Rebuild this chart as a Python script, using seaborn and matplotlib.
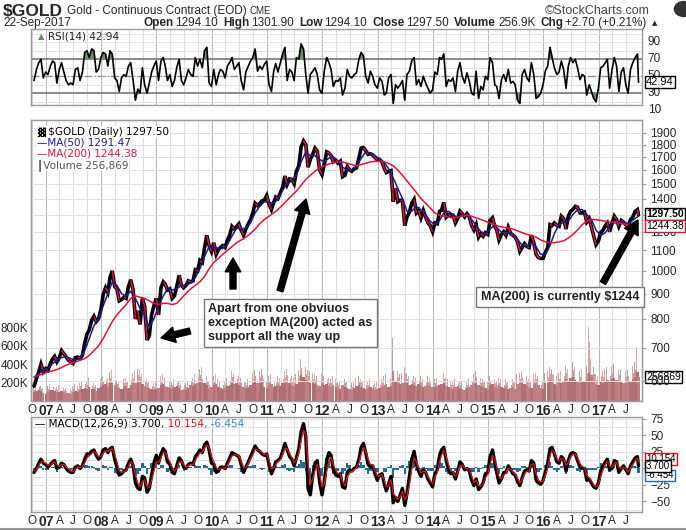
import numpy as np
import pandas as pd
import matplotlib
matplotlib.use('Agg')
import matplotlib.pyplot as plt
import matplotlib.dates as mdates
from matplotlib.collections import LineCollection
from matplotlib.patches import Circle
import seaborn as sns

# semi-monthly readings (mid month, month end), Oct 2006 .. 22 Sep 2017
price = (
    [585, 605, 625, 648, 625, 635]
    + [630, 650, 665, 672, 655, 668, 690, 680, 670, 660, 655, 650, 668, 670, 665, 675, 715, 745, 760, 795, 810, 790, 800, 835]
    + [895, 925, 905, 970, 1000, 930, 920, 870, 875, 885, 880, 930, 960, 915, 800, 830, 780, 880, 850, 725, 740, 815, 850, 880]
    + [815, 925, 950, 940, 915, 920, 880, 890, 930, 980, 935, 925, 935, 955, 950, 955, 1005, 1000, 1050, 1040, 1115, 1180, 1125, 1095]
    + [1140, 1080, 1105, 1115, 1125, 1115, 1155, 1180, 1230, 1215, 1230, 1245, 1210, 1180, 1215, 1245, 1270, 1310, 1370, 1355, 1370, 1385, 1390, 1420]
    + [1365, 1330, 1375, 1410, 1400, 1440, 1475, 1555, 1495, 1535, 1530, 1500, 1590, 1630, 1780, 1830, 1800, 1620, 1680, 1720, 1770, 1745, 1600, 1565]
    + [1640, 1740, 1730, 1710, 1660, 1670, 1650, 1665, 1550, 1560, 1625, 1600, 1590, 1610, 1615, 1690, 1770, 1775, 1750, 1720, 1725, 1715, 1695, 1675]
    + [1680, 1660, 1610, 1580, 1590, 1595, 1380, 1470, 1380, 1390, 1385, 1235, 1285, 1315, 1370, 1395, 1310, 1325, 1280, 1325, 1285, 1250, 1235, 1200]
    + [1250, 1245, 1320, 1325, 1375, 1285, 1300, 1295, 1295, 1250, 1275, 1320, 1305, 1285, 1305, 1285, 1235, 1210, 1240, 1170, 1190, 1175, 1195, 1185]
    + [1265, 1280, 1230, 1210, 1155, 1185, 1200, 1180, 1225, 1190, 1180, 1170, 1145, 1095, 1115, 1135, 1120, 1115, 1180, 1140, 1080, 1065, 1060, 1060]
    + [1090, 1115, 1240, 1235, 1250, 1235, 1230, 1290, 1275, 1215, 1290, 1320, 1330, 1350, 1345, 1310, 1310, 1315, 1255, 1275, 1225, 1175, 1130, 1150]
    + [1195, 1210, 1235, 1250, 1200, 1250, 1290, 1270, 1230, 1265, 1255, 1240, 1230, 1270, 1285, 1320, 1330, 1297.5]
)

rsi = (
    [45, 58, 66, 70, 48, 55]
    + [52, 62, 68, 66, 42, 58, 66, 55, 45, 40, 42, 40, 58, 60, 45, 55, 78, 80, 72, 82, 80, 55, 58, 72]
    + [78, 76, 62, 80, 76, 48, 45, 32, 48, 52, 50, 62, 66, 45, 22, 35, 30, 60, 40, 30, 42, 55, 62, 68]
    + [45, 68, 72, 62, 45, 52, 38, 45, 60, 70, 45, 40, 48, 58, 52, 50, 72, 62, 70, 60, 80, 84, 42, 38]
    + [58, 40, 52, 58, 56, 48, 62, 66, 72, 58, 62, 66, 45, 34, 55, 62, 68, 72, 82, 56, 62, 58, 64, 68]
    + [40, 32, 56, 65, 55, 66, 76, 84, 45, 58, 55, 45, 72, 70, 88, 82, 52, 30, 52, 56, 60, 52, 34, 30]
    + [56, 72, 66, 58, 38, 45, 44, 48, 28, 36, 58, 50, 48, 52, 54, 70, 78, 74, 50, 42, 56, 50, 40, 36]
    + [48, 44, 28, 30, 48, 52, 18, 40, 36, 40, 45, 22, 52, 56, 68, 72, 40, 46, 38, 50, 42, 36, 30, 34]
    + [55, 52, 72, 70, 76, 38, 46, 44, 48, 32, 56, 66, 50, 42, 54, 44, 30, 28, 56, 24, 38, 34, 50, 46]
    + [72, 66, 40, 38, 24, 46, 52, 44, 58, 42, 44, 40, 22, 18, 52, 58, 48, 44, 66, 52, 24, 26, 30, 40]
    + [56, 62, 84, 72, 60, 52, 55, 68, 58, 36, 62, 72, 66, 70, 60, 46, 52, 50, 28, 40, 32, 24, 20, 36]
    + [60, 62, 66, 70, 36, 58, 72, 62, 32, 55, 60, 40, 30, 58, 66, 72, 76, 42.94]
)

macd = (
    [-6, 0, 8, 14, 8, 6]
    + [2, 6, 10, 12, 0, 2, 8, 6, 0, -4, -6, -6, 2, 4, 0, 4, 14, 22, 22, 26, 28, 20, 14, 18]
    + [28, 30, 24, 30, 32, 14, 2, -10, -8, -4, -2, 8, 14, 4, -22, -30, -32, -12, -14, -36, -30, -10, 8, 20]
    + [8, 22, 30, 26, 10, 6, -6, -8, 4, 16, 12, 2, 0, 6, 8, 6, 18, 22, 28, 24, 36, 40, 28, 8]
    + [6, -6, -4, 2, 2, 0, 8, 16, 24, 22, 20, 18, 6, -6, 2, 10, 18, 26, 34, 28, 26, 22, 20, 22]
    + [6, -8, 0, 10, 12, 16, 26, 38, 28, 18, 14, 4, 16, 30, 56, 68, 48, -30, -40, -10, 8, 12, -20, -40]
    + [-22, 12, 24, 20, -2, -10, -12, -8, -28, -30, -6, -2, -4, 0, 2, 14, 32, 38, 24, 6, 2, 4, -8, -18]
    + [-10, -8, -24, -34, -24, -12, -52, -44, -50, -40, -30, -56, -38, -12, 14, 26, 6, -4, -12, -2, -6, -16, -22, -28]
    + [-8, -2, 20, 28, 32, 12, -2, -8, -6, -16, -4, 10, 6, -2, 0, -4, -18, -26, -16, -32, -28, -22, -8, -6]
    + [18, 28, 10, -6, -22, -16, -6, -6, 4, -2, -8, -10, -20, -26, -14, -4, -2, -4, 12, 8, -18, -22, -24, -18]
    + [-6, 8, 30, 32, 22, 10, 8, 18, 14, -4, 12, 22, 24, 22, 12, 2, 0, 0, -18, -16, -22, -28, -30, -22]
    + [-4, 4, 10, 14, -2, 0, 12, 10, -6, 0, 4, -2, -8, 4, 10, 16, 18, 3.7]
)

signal = (
    [-4, -2, 4, 10, 10, 8]
    + [5, 5, 8, 10, 5, 3, 6, 6, 3, -1, -4, -5, -1, 2, 1, 3, 9, 16, 19, 23, 26, 23, 18, 18]
    + [23, 27, 26, 28, 30, 21, 10, -3, -6, -5, -3, 4, 10, 7, -10, -22, -28, -20, -17, -28, -29, -18, -4, 10]
    + [9, 16, 24, 25, 16, 10, 1, -4, 0, 10, 11, 6, 2, 4, 6, 6, 13, 18, 24, 24, 31, 36, 31, 18]
    + [11, 1, -2, 0, 1, 0, 5, 11, 19, 21, 20, 19, 11, 1, 1, 7, 14, 21, 29, 28, 27, 24, 21, 22]
    + [12, 0, 0, 6, 10, 14, 21, 31, 30, 22, 17, 9, 13, 23, 43, 58, 52, 6, -24, -16, -3, 6, -8, -28]
    + [-24, -4, 12, 17, 6, -3, -8, -8, -20, -26, -14, -7, -5, -2, 1, 9, 22, 32, 27, 14, 6, 5, -3, -12]
    + [-11, -9, -18, -28, -26, -17, -38, -42, -47, -43, -35, -48, -42, -24, -2, 16, 10, 1, -7, -4, -5, -12, -18, -24]
    + [-14, -6, 10, 20, 28, 18, 6, -4, -5, -12, -7, 4, 5, 1, 0, -3, -12, -21, -18, -26, -27, -24, -14, -9]
    + [6, 20, 14, 1, -14, -15, -10, -7, 0, -1, -5, -8, -15, -22, -17, -8, -4, -4, 6, 7, -8, -17, -21, -19]
    + [-11, 2, 20, 28, 24, 15, 11, 15, 14, 4, 9, 17, 21, 22, 16, 7, 3, 1, -10, -14, -19, -25, -28, -24]
    + [-12, -2, 6, 11, 4, 2, 8, 9, 1, 0, 2, 0, -5, 0, 6, 12, 16, 10.154]
)

# typical daily volume per half month (thousands)
volume_k = (
    [95, 110, 120, 105, 90, 80]
    + [100, 115, 120, 105, 95, 100, 110, 95, 90, 85, 80, 95, 110, 100, 120, 130, 140, 135, 150, 130, 125, 110, 140, 150]
    + [170, 180, 160, 190, 200, 170, 150, 140, 130, 150, 160, 140, 170, 190, 200, 220, 210, 180, 160, 150, 140, 130, 120, 130]
    + [140, 170, 180, 160, 150, 140, 130, 150, 160, 140, 120, 130, 120, 140, 170, 160, 180, 200, 220, 230, 200, 170, 140, 150]
    + [170, 180, 150, 140, 130, 140, 160, 170, 200, 180, 190, 170, 160, 150, 140, 150, 170, 190, 210, 190, 200, 220, 150, 140]
    + [170, 180, 150, 160, 170, 160, 190, 200, 220, 190, 170, 160, 180, 210, 280, 260, 230, 210, 200, 190, 180, 170, 160, 190]
    + [170, 180, 160, 150, 170, 150, 140, 130, 170, 150, 140, 130, 120, 140, 160, 170, 150, 140, 130, 140, 150, 140, 120, 130]
    + [140, 150, 170, 180, 150, 160, 320, 220, 200, 180, 190, 230, 190, 170, 180, 170, 160, 180, 170, 150, 160, 170, 160, 150]
    + [150, 160, 170, 180, 190, 160, 150, 140, 130, 150, 160, 140, 130, 120, 140, 150, 170, 180, 200, 170, 160, 150, 140, 130]
    + [170, 180, 150, 140, 160, 150, 140, 150, 130, 140, 150, 130, 180, 190, 200, 180, 170, 150, 140, 180, 190, 170, 140, 130]
    + [190, 200, 230, 220, 180, 170, 190, 200, 210, 240, 220, 250, 260, 230, 210, 200, 220, 210, 240, 300, 280, 230, 180, 170]
    + [210, 200, 220, 230, 210, 240, 250, 230, 220, 210, 190, 200, 210, 220, 240, 260, 310, 256.869]
)

# highest single-day volume per half month (thousands)
volume_peak_k = (
    [150, 170, 190, 160, 140, 120]
    + [160, 180, 190, 160, 150, 170, 180, 150, 140, 130, 130, 160, 180, 160, 200, 220, 230, 210, 250, 200, 190, 170, 230, 240]
    + [260, 290, 250, 310, 330, 260, 230, 220, 200, 240, 250, 220, 280, 300, 320, 350, 330, 290, 260, 240, 220, 200, 190, 210]
    + [220, 270, 290, 250, 230, 220, 210, 240, 250, 220, 190, 210, 190, 220, 270, 250, 290, 320, 350, 370, 320, 270, 220, 240]
    + [270, 290, 240, 220, 210, 220, 250, 270, 320, 290, 300, 270, 250, 240, 220, 240, 270, 300, 340, 300, 320, 350, 240, 220]
    + [270, 290, 240, 250, 270, 250, 300, 320, 350, 300, 270, 250, 290, 340, 450, 420, 370, 340, 320, 300, 290, 270, 250, 300]
    + [270, 290, 250, 240, 270, 240, 220, 210, 270, 240, 220, 210, 190, 220, 250, 270, 240, 220, 210, 220, 240, 220, 190, 210]
    + [220, 240, 270, 290, 240, 250, 680, 350, 320, 290, 300, 370, 300, 270, 290, 270, 250, 290, 270, 240, 250, 270, 250, 240]
    + [240, 250, 270, 290, 300, 250, 240, 220, 210, 240, 250, 220, 210, 190, 220, 240, 270, 290, 320, 270, 250, 240, 220, 210]
    + [270, 290, 240, 220, 250, 240, 220, 240, 210, 220, 240, 210, 290, 300, 320, 290, 270, 240, 220, 290, 300, 270, 220, 210]
    + [300, 320, 370, 350, 290, 270, 300, 320, 340, 380, 350, 400, 420, 370, 340, 320, 350, 340, 380, 800, 450, 370, 290, 270]
    + [340, 320, 350, 370, 340, 380, 400, 370, 350, 340, 300, 320, 340, 350, 380, 420, 580, 300]
)

# monthly moving average readings, Oct 2006 .. Sep 2017
ma50 = (
    [610, 620, 630]
    + [635, 650, 660, 668, 672, 665, 660, 665, 690, 730, 775, 800]
    + [850, 900, 950, 935, 900, 890, 910, 880, 840, 810, 770, 800]
    + [850, 890, 920, 915, 920, 935, 935, 945, 970, 1010, 1070, 1120]
    + [1120, 1110, 1110, 1130, 1175, 1220, 1215, 1220, 1250, 1310, 1350, 1380]
    + [1375, 1370, 1395, 1455, 1500, 1520, 1560, 1660, 1740, 1710, 1710, 1680]
    + [1660, 1690, 1700, 1670, 1620, 1600, 1600, 1620, 1690, 1740, 1730, 1710]
    + [1685, 1655, 1610, 1540, 1470, 1400, 1320, 1320, 1350, 1330, 1300, 1260]
    + [1240, 1265, 1310, 1320, 1300, 1280, 1295, 1300, 1270, 1235, 1200, 1190]
    + [1215, 1240, 1210, 1190, 1195, 1190, 1160, 1125, 1120, 1140, 1120, 1080]
    + [1080, 1125, 1190, 1240, 1255, 1260, 1300, 1330, 1330, 1300, 1270, 1210]
    + [1180, 1195, 1230, 1250, 1255, 1255, 1245, 1265, 1291.47]
)
ma200 = (
    [610, 615, 620]
    + [625, 628, 632, 638, 645, 650, 655, 660, 665, 675, 690, 705]
    + [730, 760, 790, 815, 835, 855, 880, 890, 885, 880, 870, 860]
    + [855, 860, 860, 855, 860, 880, 900, 920, 935, 950, 975, 1010]
    + [1040, 1060, 1080, 1100, 1120, 1140, 1155, 1170, 1190, 1215, 1245, 1270]
    + [1290, 1310, 1330, 1360, 1390, 1420, 1450, 1490, 1530, 1560, 1590, 1615]
    + [1630, 1645, 1655, 1665, 1660, 1650, 1640, 1630, 1640, 1650, 1660, 1665]
    + [1665, 1660, 1650, 1630, 1600, 1560, 1520, 1480, 1440, 1400, 1370, 1340]
    + [1310, 1295, 1290, 1285, 1280, 1285, 1290, 1295, 1290, 1280, 1270, 1260]
    + [1250, 1240, 1230, 1225, 1220, 1215, 1205, 1195, 1185, 1180, 1170, 1155]
    + [1145, 1140, 1140, 1145, 1150, 1165, 1185, 1210, 1240, 1260, 1270, 1270]
    + [1265, 1260, 1255, 1255, 1250, 1245, 1240, 1240, 1244.38]
)

price_ticks = [600, 700, 800, 900, 1000, 1100, 1200, 1300, 1400, 1500, 1600, 1700, 1800, 1900]
vol_ticks = [200000, 400000, 600000, 800000]
vol_labels = ['200K', '400K', '600K', '800K']

# ---- dates ----
months = pd.date_range('2006-10-01', '2017-09-01', freq='MS')
dates = []
for m in months:
    dates += [m + pd.Timedelta(days=14), m + pd.offsets.MonthEnd(0)]
dates[-1] = pd.Timestamp('2017-09-22')
dates = pd.DatetimeIndex(dates)
ma_dates = list(months + pd.Timedelta(days=14))
ma_dates[-1] = pd.Timestamp('2017-09-22')
ma_dates = pd.DatetimeIndex(ma_dates)
quarters = pd.date_range('2006-10-01', '2017-07-01', freq='QS-JAN')
xlim = (pd.Timestamp('2006-09-25'), pd.Timestamp('2017-10-15'))

price = np.array(price, dtype=float)
volume = np.array(volume_k) * 1000
volume_peak = np.array(volume_peak_k) * 1000
hist = np.array(macd) - np.array(signal)

sns.set_style('white')
plt.rcParams['font.family'] = ['Liberation Sans', 'DejaVu Sans']

W, H = 686, 531
fig = plt.figure(figsize=(W / 100, H / 100), dpi=100)
renderer = fig.canvas.get_renderer()


def px_axes(top, bottom, left=31, right=642):
    return fig.add_axes([left / W, 1 - bottom / H, (right - left) / W, (bottom - top) / H])


def frame(ax):
    for s in ax.spines.values():
        s.set_color('#9a9a9a')
        s.set_linewidth(1)
    ax.set_xlim(*xlim)
    for q in quarters:
        ax.axvline(q, color='#b9b9b9' if q.month == 1 else '#dedede', lw=0.8, zorder=0)


def month_labels(ax):
    labs = [{10: 'O', 4: 'A', 7: 'J'}.get(q.month, f'{q.year % 100:02d}') for q in quarters]
    ax.set_xticks(quarters)
    ax.set_xticklabels(labs)
    ax.tick_params(axis='x', length=0, pad=2, labelsize=8.5)
    for t, q in zip(ax.get_xticklabels(), quarters):
        if q.month == 1:
            t.set_fontweight('bold')
            t.set_fontsize(10)


def tag(ax, val, s, ec, bold=False, size=7.5, dy=0):
    ax.annotate(s, xy=(1, val), xycoords=('axes fraction', 'data'), xytext=(3, dy),
                textcoords='offset points', va='center', ha='left', fontsize=size,
                fontweight='bold' if bold else 'normal', color='black',
                bbox=dict(boxstyle='square,pad=0.1', fc='white', ec=ec, lw=1),
                annotation_clip=False, zorder=20)


def text_run(x, y, parts, size, **kw):
    # pieces of one line, each with its own colour, placed side by side
    for s, color in parts:
        t = fig.text(x / W, 1 - y / H, s, fontsize=size, va='center', color=color, **kw)
        x += t.get_window_extent(renderer=renderer).width


# ---------- RSI panel ----------
ax_r = px_axes(29, 105)
frame(ax_r)
ax_r.set_ylim(16.2, 105.6)
for v in range(20, 101, 10):
    ax_r.axhline(v, color='#e2e2e2', lw=0.7, zorder=0)
ax_r.axhline(70, color='#7a7a7a', lw=1.2, zorder=1)
ax_r.axhline(30, color='#7a7a7a', lw=1.2, zorder=1)
ax_r.axhline(50, color='#8a8a8a', lw=0.9, ls='-.', zorder=1)
rsi_arr = np.array(rsi)
ax_r.fill_between(dates, 70, rsi_arr, where=rsi_arr > 70, interpolate=True, color='#6f8f6f', zorder=2)
ax_r.fill_between(dates, 30, rsi_arr, where=rsi_arr < 30, interpolate=True, color='#6f8f6f', zorder=2)
sns.lineplot(x=dates, y=rsi_arr, ax=ax_r, color='black', lw=1.2, zorder=3)
ax_r.set_xticks([])
ax_r.set_yticks([])
ax_r.set_xlabel('')
ax_r.set_ylabel('')
for v in [10, 30, 50, 70, 90]:
    ax_r.annotate(str(v), xy=(1, v), xycoords=('axes fraction', 'data'), xytext=(4, 0),
                  textcoords='offset points', va='center', fontsize=8.5, annotation_clip=False)
tag(ax_r, 42.94, '42.94', 'black', size=8)
ax_r.text(0.012, 0.90, '\u25b2', transform=ax_r.transAxes, fontsize=6, color='#5f8f5f',
          va='center', family='DejaVu Sans')
ax_r.text(0.028, 0.90, 'RSI(14) 42.94', transform=ax_r.transAxes, fontsize=7.5,
          va='center', family='DejaVu Sans')

# ---------- price + volume panel ----------
ax_p = px_axes(120, 401)
ax_v = ax_p.twinx()
ax_p.set_zorder(2)
ax_p.patch.set_visible(False)
ax_v.set_zorder(1)
frame(ax_v)
ax_p.set_xlim(*xlim)
for s in ax_p.spines.values():
    s.set_color('#9a9a9a')

up = np.r_[True, price[1:] >= price[:-1]]
peak_cols = ['#e3a7a9' if i % 3 else '#a9a9a9' for i in range(len(volume_peak))]
ax_v.bar(dates - pd.Timedelta(days=4), volume_peak, width=5, color=peak_cols, linewidth=0)
ax_v.bar(dates + pd.Timedelta(days=4), volume_peak * 0.8, width=4, color='#d8999b', linewidth=0)
ax_v.bar(dates, volume, width=15.5, color=np.where(up, '#b07174', '#c07f82'), linewidth=0)
ax_v.set_ylim(0, 3.04e6)
ax_v.yaxis.tick_left()
ax_v.set_yticks(vol_ticks)
ax_v.set_yticklabels(vol_labels)
ax_v.tick_params(axis='y', length=0, labelsize=8.5, pad=2)
ax_v.set_xticks([])

ax_p.set_yscale('log')
ax_p.set_ylim(546, 2018)
for v in price_ticks:
    ax_p.axhline(v, color='#e0e0e0', lw=0.7, zorder=0)
ax_p.yaxis.tick_right()
ax_p.set_yticks(price_ticks)
ax_p.set_yticklabels([str(v) for v in price_ticks])
ax_p.minorticks_off()
ax_p.tick_params(axis='y', length=3, color='#9a9a9a', labelsize=8.5, pad=3)

ax_p.plot(dates, price, color='black', lw=2.6, zorder=3, solid_joinstyle='miter')
xs = mdates.date2num(dates)
segs = [[(xs[i], price[i]), (xs[i + 1], price[i + 1])] for i in range(len(price) - 1)
        if price[i + 1] < price[i]]
ax_p.add_collection(LineCollection(segs, colors='#dc143c', linewidths=1.1, zorder=4))
sns.lineplot(x=ma_dates, y=ma50, ax=ax_p, color='#1a1a8c', lw=1.1, zorder=5)
sns.lineplot(x=ma_dates, y=ma200, ax=ax_p, color='#dc143c', lw=1.1, zorder=5)
ax_p.set_xlabel('')
ax_p.set_ylabel('')
month_labels(ax_p)

tag(ax_p, 1297.5, '1297.50', 'black', bold=True, dy=1)
tag(ax_p, 1244.38, '1244.38', '#dc143c', dy=-1.5)
tag(ax_v, 256869, '256869', 'black')

leg = [('\u2593 $GOLD (Daily) 1297.50', 'black'), ('\u2014MA(50) 1291.47', '#1a1a8c'),
       ('\u2014MA(200) 1244.38', '#dc143c'), ('\u2503Volume 256,869', '#555555')]
for i, (s, c) in enumerate(leg):
    fig.text(37 / W, 1 - (132 + i * 11) / H, s, fontsize=7.5, color=c, va='center',
             family='DejaVu Sans', bbox=dict(boxstyle='square,pad=0.05', fc='white', ec='none'))

# ---------- MACD panel ----------
ax_m = px_axes(417, 512)
frame(ax_m)
ax_m.set_ylim(-66, 78)
for v in np.arange(-62.5, 76, 12.5):
    ax_m.axhline(v, color='#e2e2e2', lw=0.7, zorder=0)
ax_m.bar(dates, hist, width=15.5, color='#236e8e', linewidth=0, zorder=2)
sns.lineplot(x=dates, y=macd, ax=ax_m, color='black', lw=2.4, zorder=3)
sns.lineplot(x=dates, y=signal, ax=ax_m, color='#e0101a', lw=0.9, zorder=4)
ax_m.set_xlabel('')
ax_m.set_ylabel('')
ax_m.yaxis.tick_right()
ax_m.set_yticks([-50, -25, 0, 25, 50, 75])
ax_m.tick_params(axis='y', length=3, color='#9a9a9a', labelsize=8.5, pad=3)
month_labels(ax_m)
tag(ax_m, 10.154, '10.154', '#e0101a', size=7, dy=2)
tag(ax_m, -6.454, '-6.454', '#2a6aa8', size=7, dy=-2)
tag(ax_m, 3.7, '3.700', 'black', size=7)
text_run(35, 424, [('\u2014 MACD(12,26,9) 3.700', 'black'), (', 10.154', '#e0101a'),
                   (', -6.454', '#2a8ac8')], 7.5, family='DejaVu Sans')

fig.add_artist(plt.Line2D([0, 1], [1 - 529 / H, 1 - 529 / H], color='#9a9a9a', lw=1.5))

# ---------- header ----------
narrow = ['Liberation Sans Narrow', 'Liberation Sans', 'DejaVu Sans']
t = fig.text(3 / W, 1 - 11 / H, '$GOLD', fontsize=12.5, fontweight='bold', va='center', family=narrow)
x = 3 + t.get_window_extent(renderer=renderer).width + 4
t = fig.text(x / W, 1 - 11 / H, 'Gold - Continuous Contract (EOD)', fontsize=8.5, va='center', family=narrow)
x += t.get_window_extent(renderer=renderer).width + 3
fig.text(x / W, 1 - 11 / H, 'CME', fontsize=7, va='center', family=narrow)
fig.text(650 / W, 1 - 11 / H, '\u00a9StockCharts.com', fontsize=9, va='center', ha='right',
         color='#444444', family=narrow)
fig.add_artist(Circle((684 / W, 1 - 9 / H), 0.014, transform=fig.transFigure, color='#333333'))
fig.text(3 / W, 1 - 23 / H, '22-Sep-2017', fontsize=8.5, va='center', family=narrow)

parts = [('Open', True), ('1294.10', False), ('High', True), ('1301.90', False), ('Low', True),
         ('1294.10', False), ('Close', True), ('1297.50', False), ('Volume', True), ('256.9K', False),
         ('Chg', True), ('+2.70 (+0.21%)', False)]
x = 143
for s, b in parts:
    t = fig.text(x / W, 1 - 23 / H, s, fontsize=8.5, va='center', fontweight='bold' if b else 'normal',
                 family=narrow)
    x += t.get_window_extent(renderer=renderer).width + (2 if b else 5)
fig.text(x / W, 1 - 23 / H, '\u25b2', fontsize=5, va='center', family='DejaVu Sans')

# ---------- annotations ----------
fig.text(208 / W, 1 - 303 / H, 'Apart from one obviuos\nexception MA(200) acted as\nsupport all the way up',
         fontsize=9, fontweight='bold', color='#222222', va='top', ha='left', linespacing=1.2,
         bbox=dict(boxstyle='square,pad=0.35', fc='white', ec='#777777', lw=1), zorder=30)
fig.text(560 / W, 1 - 297 / H, 'MA(200) is currently $1244', fontsize=9, fontweight='bold',
         color='#222222', va='center', ha='center',
         bbox=dict(boxstyle='square,pad=0.35', fc='white', ec='#777777', lw=1), zorder=30)

arrows = [((190, 331), (161, 338)), ((233, 289), (233, 258)), ((280, 291), (306, 199)),
          ((603, 283), (638, 220))]
for (x0, y0), (x1, y1) in arrows:
    ax_p.annotate('', xy=(x1, H - y1), xytext=(x0, H - y0), xycoords='figure pixels',
                  textcoords='figure pixels', annotation_clip=False, zorder=30,
                  arrowprops=dict(arrowstyle='simple,head_length=0.55,head_width=0.62,tail_width=0.24',
                                  fc='black', ec='black', mutation_scale=18, shrinkA=0, shrinkB=0))

fig.savefig('out.png', dpi=100)
